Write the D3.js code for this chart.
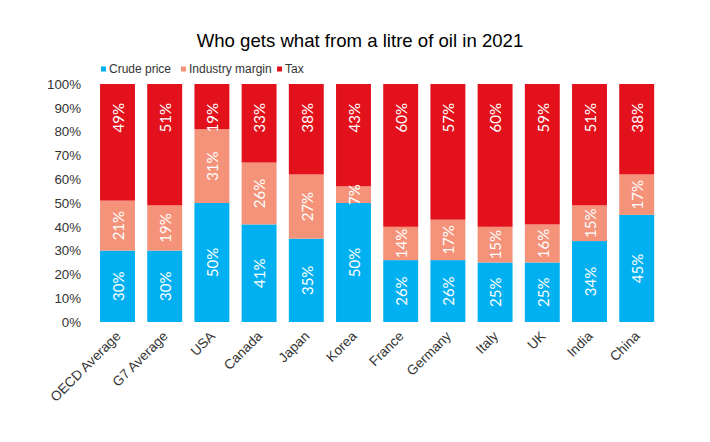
<!DOCTYPE html>
<html><head><meta charset="utf-8">
<script src="https://cdn.jsdelivr.net/npm/d3@7"></script>
<style>body{margin:0;background:#fff}svg{display:block}</style>
</head><body><svg id="c" width="710" height="442"></svg>
<script>
const categories = ["OECD Average","G7 Average","USA","Canada","Japan","Korea","France","Germany","Italy","UK","India","China"];
const crudePrice = [30,30,50,41,35,50,26,26,25,25,34,45];
const industryMargin = [21,19,31,26,27,7,14,17,15,16,15,17];
const tax = [49,51,19,33,38,43,60,57,60,59,51,38];
const seriesNames = ["Crude price","Industry margin","Tax"];
const yTicks = [0,10,20,30,40,50,60,70,80,90,100];
const colors = ["#00B0F0","#F4937A","#E2111B"];

const svg = d3.select("#c");
const rows = categories.map((c,i)=>({cat:c, "Crude price":crudePrice[i], "Industry margin":industryMargin[i], "Tax":tax[i]}));
const stack = d3.stack().keys(seriesNames)(rows);

const x = d3.scaleBand().domain(categories).range([93.9,660.3]).paddingInner(0.26).paddingOuter(0.13);
const y = d3.scaleLinear().domain([0,100]).range([322,84]);

svg.append("text").attr("x",360).attr("y",47).attr("text-anchor","middle")
  .attr("font-family","Liberation Sans, Arial, sans-serif").attr("font-size",18.6).attr("fill","#000")
  .text("Who gets what from a litre of oil in 2021");

// legend
const legX = [101,181,277];
seriesNames.forEach((s,i)=>{
  const g = svg.append("g").attr("transform",`translate(${legX[i]},69)`);
  g.append("rect").attr("x",0).attr("y",-2.5).attr("width",5).attr("height",5).attr("fill",colors[i]);
  g.append("text").attr("x",8).attr("y",0).attr("dy","0.35em").attr("font-family","Liberation Sans, Arial, sans-serif")
   .attr("font-size",12).attr("fill","#333").text(s);
});

// y axis
const yAxis = d3.axisLeft(y).tickValues(yTicks).tickFormat(d=>d+"%").tickSize(0).tickPadding(0);
const ya = svg.append("g").attr("transform","translate(81,0)").call(yAxis);
ya.select(".domain").remove();
ya.selectAll("text").attr("font-family","Liberation Sans, Arial, sans-serif").attr("font-size",13.3).attr("fill","#333");

// bars
stack.forEach((layer,li)=>{
  const g = svg.append("g").attr("fill",colors[li]);
  g.selectAll("rect").data(layer).join("rect")
    .attr("x",d=>x(d.data.cat)).attr("width",x.bandwidth())
    .attr("y",d=>y(d[1])).attr("height",d=>y(d[0])-y(d[1]));
});

// data labels
stack.forEach((layer,li)=>{
  svg.append("g").selectAll("text").data(layer).join("text")
    .attr("transform",d=>{
      const cx = x(d.data.cat)+x.bandwidth()/2+1;
      const cy = li===2 ? y(d[1])+19 : (y(d[0])+y(d[1]))/2;
      return `translate(${cx},${cy}) rotate(-90)`;
    })
    .attr("text-anchor",li===2?"end":"middle")
    .attr("dy","0.35em")
    .attr("font-family","Lato, Carlito, sans-serif").attr("font-size",15).attr("fill","#fff")
    .text(d=>(d[1]-d[0])+"%");
});

// x axis labels
const xAxis = d3.axisBottom(x).tickSize(0).tickPadding(0);
const xa = svg.append("g").attr("transform","translate(0,322)").call(xAxis);
xa.select(".domain").remove();
xa.selectAll("text")
  .attr("font-family","Liberation Sans, Arial, sans-serif").attr("font-size",13.6).attr("fill","#333")
  .attr("text-anchor","end").attr("dy",0).attr("y",0)
  .attr("transform","translate(4,15) rotate(-45)");
</script></body></html>
